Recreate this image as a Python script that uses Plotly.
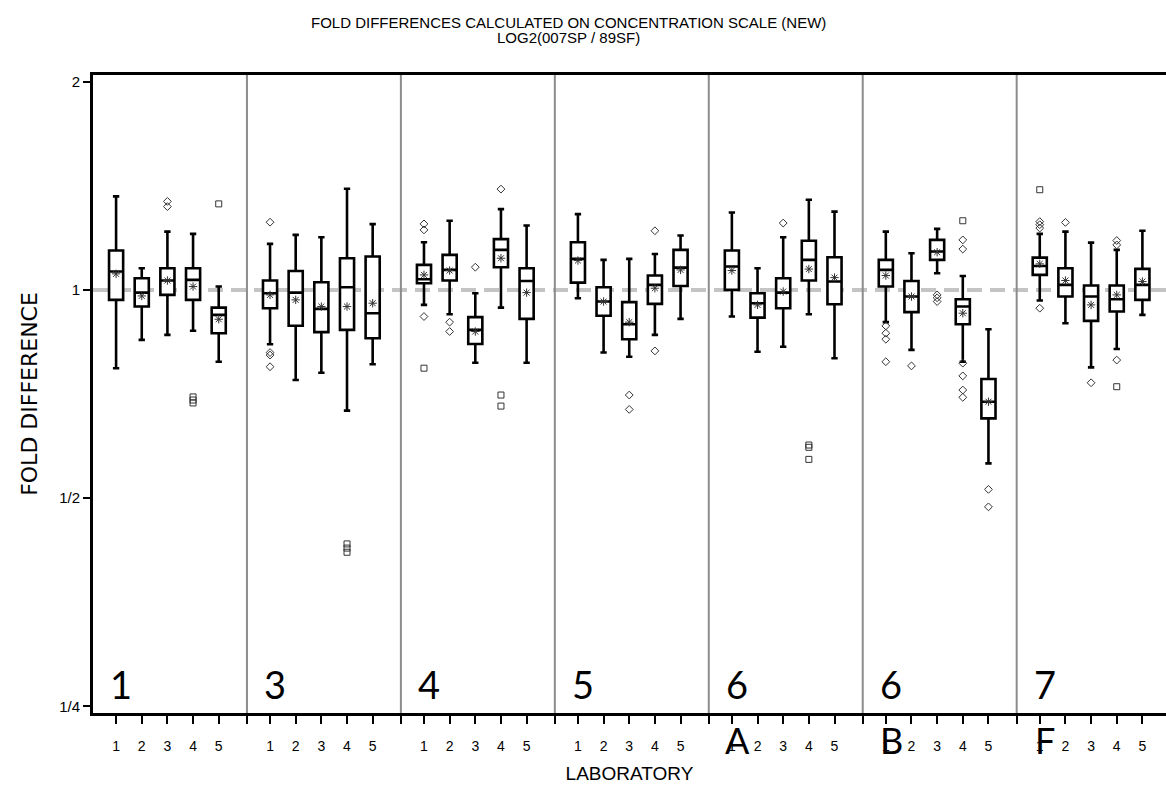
import plotly.graph_objects as go

# ---------------- data (log2 fold differences) ----------------
panel_labels = ["1", "3", "4", "5", "6", "6", "7"]
panel_letters = ["", "", "", "", "A", "B", "F"]
lab_labels = ["1", "2", "3", "4", "5"]

# 7 panels x 5 labs, in panel order
upper_vals = [0.449, 0.104, 0.280, 0.269, 0.016,
              0.221, 0.264, 0.253, 0.486, 0.316,
              0.229, 0.332, -0.016, 0.388, 0.309,
              0.364, 0.144, 0.149, 0.172, 0.261,
              0.372, 0.104, 0.253, 0.433, 0.376,
              0.280, 0.176, 0.293, 0.067, -0.189,
              0.269, 0.280, 0.227, 0.192, 0.284]
q3_vals = [0.189, 0.056, 0.104, 0.104, -0.085,
           0.045, 0.091, 0.037, 0.152, 0.160,
           0.120, 0.168, -0.131, 0.244, 0.104,
           0.229, 0.013, -0.059, 0.069, 0.192,
           0.189, -0.016, 0.056, 0.236, 0.157,
           0.144, 0.043, 0.240, -0.045, -0.428,
           0.155, 0.104, 0.021, 0.021, 0.101]
median_vals = [0.088, -0.013, 0.045, 0.048, -0.120,
               -0.016, -0.013, -0.091, 0.013, -0.112,
               0.051, 0.096, -0.192, 0.192, 0.043,
               0.149, -0.056, -0.165, 0.024, 0.107,
               0.112, -0.064, -0.013, 0.144, 0.040,
               0.096, -0.032, 0.184, -0.080, -0.537,
               0.115, 0.024, -0.032, -0.045, 0.024]
mean_vals = [0.077, -0.029, 0.045, 0.016, -0.141,
             -0.024, -0.048, -0.080, -0.080, -0.064,
             0.072, 0.093, -0.200, 0.152, -0.013,
             0.141, -0.056, -0.155, 0.008, 0.096,
             0.093, -0.072, -0.008, 0.100, 0.059,
             0.069, -0.032, 0.181, -0.112, -0.537,
             0.125, 0.045, -0.072, -0.024, 0.040]
q1_vals = [-0.048, -0.080, -0.024, -0.048, -0.208,
           -0.088, -0.172, -0.203, -0.192, -0.232,
           0.032, 0.045, -0.260, 0.109, -0.139,
           0.035, -0.124, -0.237, -0.067, 0.019,
           0.000, -0.133, -0.088, 0.045, -0.069,
           0.016, -0.107, 0.144, -0.165, -0.617,
           0.072, -0.032, -0.149, -0.104, -0.048]
lower_vals = [-0.376, -0.240, -0.216, -0.196, -0.345,
              -0.261, -0.433, -0.398, -0.580, -0.357,
              -0.072, -0.117, -0.350, -0.085, -0.350,
              -0.040, -0.301, -0.321, -0.216, -0.139,
              -0.128, -0.297, -0.273, -0.117, -0.328,
              -0.155, -0.288, 0.080, -0.345, -0.833,
              -0.051, -0.160, -0.372, -0.284, -0.120]

# outliers: (panel index, lab number, log2 value)
diamond_outliers = [
    (0, 3, 0.425), (0, 3, 0.400),
    (1, 1, 0.325), (1, 1, -0.301), (1, 1, -0.313), (1, 1, -0.369),
    (2, 1, 0.317), (2, 1, 0.288), (2, 1, -0.128), (2, 2, -0.155), (2, 2, -0.200),
    (2, 3, 0.109), (2, 4, 0.484),
    (3, 3, -0.505), (3, 3, -0.574), (3, 4, 0.284), (3, 4, -0.293),
    (4, 3, 0.321),
    (5, 1, -0.173), (5, 1, -0.208), (5, 1, -0.237), (5, 1, -0.345), (5, 2, -0.365),
    (5, 3, -0.024), (5, 3, -0.038), (5, 3, -0.056), (5, 4, 0.240), (5, 4, 0.196),
    (5, 4, -0.352), (5, 4, -0.413), (5, 4, -0.481), (5, 4, -0.516),
    (5, 5, -0.958), (5, 5, -1.042),
    (6, 1, 0.328), (6, 1, 0.313), (6, 1, 0.297), (6, 1, -0.088), (6, 2, 0.324),
    (6, 3, -0.446), (6, 4, 0.237), (6, 4, 0.216), (6, 4, -0.337),
]
square_outliers = [
    (0, 4, -0.514), (0, 4, -0.529), (0, 4, -0.543), (0, 5, 0.413),
    (1, 4, -1.22), (1, 4, -1.24), (1, 4, -1.26),
    (2, 1, -0.376), (2, 4, -0.505), (2, 4, -0.558),
    (4, 4, -0.745), (4, 4, -0.756), (4, 4, -0.814),
    (5, 4, 0.332),
    (6, 1, 0.481), (6, 4, -0.465),
]

y_tick_vals = [1, 0, -1, -2]
y_tick_text = ["2", "1", "1/2", "1/4"]

# ---------------- geometry helpers ----------------
SLOTS = 6          # units per panel
OFFSET = -0.1      # box position inside the panel


def xpos(p, lab):
    return SLOTS * p + lab + OFFSET


n_panels = len(panel_labels)
n_labs = len(lab_labels)
box_x = [xpos(p, l + 1) for p in range(n_panels) for l in range(n_labs)]

fig = go.Figure()

fig.add_trace(go.Box(
    x=box_x, q1=q1_vals, median=median_vals, q3=q3_vals,
    lowerfence=lower_vals, upperfence=upper_vals,
    width=0.55, whiskerwidth=0.45,
    fillcolor="white", line=dict(color="black", width=2.6),
    boxpoints=False, hoverinfo="skip", showlegend=False,
))

fig.add_trace(go.Scatter(
    x=box_x, y=mean_vals, mode="markers",
    marker=dict(symbol="asterisk-open", size=7, color="#333",
                line=dict(color="#333", width=1)),
    hoverinfo="skip", showlegend=False,
))

fig.add_trace(go.Scatter(
    x=[xpos(p, l) for p, l, v in diamond_outliers],
    y=[v for p, l, v in diamond_outliers], mode="markers",
    marker=dict(symbol="diamond-open", size=6, color="#333",
                line=dict(color="#333", width=1)),
    hoverinfo="skip", showlegend=False,
))
fig.add_trace(go.Scatter(
    x=[xpos(p, l) for p, l, v in square_outliers],
    y=[v for p, l, v in square_outliers], mode="markers",
    marker=dict(symbol="square-open", size=6, color="#333",
                line=dict(color="#333", width=1)),
    hoverinfo="skip", showlegend=False,
))

# reference line at fold difference 1
fig.add_hline(y=0, line=dict(color="#c4c4c4", width=4, dash="15px,8px"), layer="below")

# panel separators
for p in range(1, n_panels):
    fig.add_vline(x=SLOTS * p, line=dict(color="#8c8c8c", width=2), layer="below")

# x ticks
tick_vals, tick_text = [], []
for p in range(n_panels):
    for l in range(n_labs):
        tick_vals.append(xpos(p, l + 1))
        tick_text.append(lab_labels[l])
    if p > 0:
        tick_vals.append(SLOTS * p)
        tick_text.append("")

# panel labels and letters
for p in range(n_panels):
    fig.add_annotation(x=SLOTS * p + 1.1, y=-1.894, xref="x", yref="y",
                       text=panel_labels[p], showarrow=False,
                       font=dict(family="Lato", size=38, color="black"),
                       xanchor="center", yanchor="middle")
    if panel_letters[p]:
        fig.add_annotation(x=SLOTS * p + 1.12, y=-0.043, xref="x", yref="paper",
                           text=panel_letters[p], showarrow=False,
                           font=dict(family="Lato", size=36, color="black"),
                           xanchor="center", yanchor="middle")

# titles
title_x = (568 - 93) / (1166 - 93)
fig.add_annotation(x=title_x, y=1 + (75 - 22) / 638, xref="paper", yref="paper",
                   text="FOLD DIFFERENCES CALCULATED ON CONCENTRATION SCALE (NEW)",
                   showarrow=False, font=dict(family="Liberation Sans", size=15, color="black"),
                   xanchor="center", yanchor="middle")
fig.add_annotation(x=title_x, y=1 + (75 - 38) / 638, xref="paper", yref="paper",
                   text="LOG2(007SP / 89SF)",
                   showarrow=False, font=dict(family="Liberation Sans", size=15, color="black"),
                   xanchor="center", yanchor="middle")

fig.update_layout(
    width=1166, height=794,
    margin=dict(l=93, r=0, t=75, b=81),
    paper_bgcolor="white", plot_bgcolor="white",
    xaxis=dict(
        range=[0, 41.82], showgrid=False, zeroline=False,
        showline=True, linecolor="black", linewidth=3, mirror=True,
        ticks="outside", ticklen=8, tickwidth=2, tickcolor="black",
        tickvals=tick_vals, ticktext=tick_text, ticklabelstandoff=10,
        tickfont=dict(family="Liberation Sans", size=14, color="black"),
        title=dict(text="LABORATORY", standoff=14,
                   font=dict(family="Liberation Sans", size=19, color="black")),
    ),
    yaxis=dict(
        range=[-2.032, 1.032], showgrid=False, zeroline=False,
        showline=True, linecolor="black", linewidth=3,
        ticks="outside", ticklen=7, tickwidth=2, tickcolor="black",
        tickvals=y_tick_vals, ticktext=y_tick_text,
        tickfont=dict(family="Liberation Sans", size=15, color="black"),
        title=dict(text="FOLD DIFFERENCE", standoff=16,
                   font=dict(family="DejaVu Sans", size=22, color="black")),
    ),
)

fig.write_html("out.html")
